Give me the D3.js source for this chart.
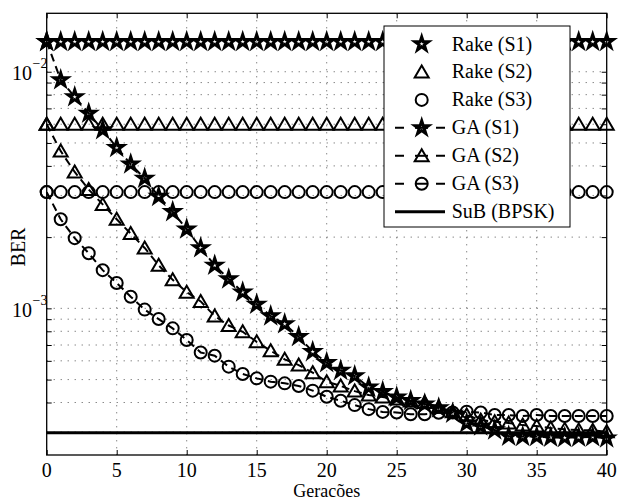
<!DOCTYPE html>
<html lang="en">
<head>
    <meta charset="utf-8">
    <script src="https://cdn.jsdelivr.net/npm/d3@7"></script>
    <style>
        body { margin: 0; background: #fff; }
        svg text { font-family: 'Liberation Serif', Tinos, 'Times New Roman', Times, 'DejaVu Serif', serif; fill: #000; }
        .grid line { stroke: #555; stroke-width: 1; stroke-dasharray: 1, 6; }
        .axis path { display: none; }
        .axis line { stroke: #000; stroke-width: 1; }
        .marker { fill: none; stroke: #000; stroke-width: 2; }
        .marker.star { stroke-width: 3; }
    </style>
</head>
<body>
<script>

    // data
    let generations = d3.range(0, 41);
    let xTicks = [0, 5, 10, 15, 20, 25, 30, 35, 40];
    let yLabelTicks = [1e-3, 1e-2];

    let rakeS1 = 0.0134;
    let rakeS2 = 0.006;
    let rakeS3 = 0.0031;
    let subBpsk = 0.000298;

    let gaS1 = [0.0134, 0.00923, 0.00783, 0.00667, 0.00568, 0.00478, 0.00407, 0.00354, 0.00297, 0.00256,
        0.00216, 0.00180, 0.00152, 0.00133, 0.00117, 0.00104, 0.000928, 0.000859, 0.000759, 0.000656,
        0.000589, 0.000546, 0.000518, 0.000464, 0.000444, 0.000421, 0.000407, 0.000394, 0.000379, 0.000360,
        0.000327, 0.000318, 0.000306, 0.000288, 0.000287, 0.000287, 0.000285, 0.000284, 0.000285, 0.000286,
        0.000283];
    let gaS2 = [0.006, 0.00462, 0.00377, 0.00318, 0.00275, 0.00238, 0.00207, 0.00180, 0.00152, 0.00132,
        0.00117, 0.00107, 0.000928, 0.000846, 0.000796, 0.000722, 0.000662, 0.000609, 0.000576, 0.000535,
        0.000490, 0.000470, 0.000447, 0.000430, 0.000422, 0.000414, 0.000406, 0.000400, 0.000382, 0.000366,
        0.000354, 0.000337, 0.000332, 0.000328, 0.000321, 0.000318, 0.000312, 0.000308, 0.000306, 0.000305,
        0.000301];
    let gaS3 = [0.0031, 0.00238, 0.00198, 0.00171, 0.00145, 0.00128, 0.00112, 0.000988, 0.000901, 0.000823,
        0.000735, 0.000651, 0.000631, 0.000567, 0.000528, 0.000506, 0.000490, 0.000482, 0.000470, 0.000449,
        0.000423, 0.000407, 0.000390, 0.000375, 0.000365, 0.000363, 0.000357, 0.000357, 0.000362, 0.000363,
        0.000366, 0.000363, 0.000354, 0.000354, 0.000351, 0.000354, 0.000351, 0.000351, 0.000351, 0.000351,
        0.000351];

    let legendLabels = ['Rake (S1)', 'Rake (S2)', 'Rake (S3)', 'GA (S1)', 'GA (S2)', 'GA (S3)', 'SuB (BPSK)'];

    let width = 618, height = 501;
    let plotLeft = 46.7, plotRight = 606.7, plotTop = 13.3, plotBottom = 455;
    let serif = "'Liberation Serif', Tinos, 'Times New Roman', Times, 'DejaVu Serif', serif";

    let svg = d3.select('body').append('svg')
        .attr('width', width).attr('height', height)
        .attr('font-family', serif);

    let x = d3.scaleLinear().domain([0, 40]).range([plotLeft, plotRight]);
    let y = d3.scaleLog().domain([2.4e-4, 0.01766]).range([plotBottom, plotTop]);

    // marker shapes
    let starPath = d3.symbol(d3.symbolStar, 56)();
    let triPath = 'M0,-6.5L7,5.5L-7,5.5Z';
    function drawMarker(g, shape, px, py) {
        if (shape === 'circle') {
            g.append('circle').attr('class', 'marker').attr('cx', px).attr('cy', py).attr('r', 6);
        } else {
            g.append('path').attr('class', 'marker ' + shape)
                .attr('d', shape === 'star' ? starPath : triPath)
                .attr('transform', 'translate(' + px + ',' + py + ')');
        }
    }

    // grid
    let grid = svg.append('g').attr('class', 'grid');
    grid.selectAll('.vx').data(xTicks.slice(1, -1)).enter().append('line')
        .attr('x1', function (d) { return x(d); }).attr('x2', function (d) { return x(d); })
        .attr('y1', plotTop).attr('y2', plotBottom);
    let yTicks = y.ticks().filter(function (d) { return y(d) > plotTop + 1 && y(d) < plotBottom - 1; });
    grid.selectAll('.hy').data(yTicks).enter().append('line')
        .attr('x1', plotLeft).attr('x2', plotRight)
        .attr('y1', function (d) { return y(d); }).attr('y2', function (d) { return y(d); });

    // axes with inward ticks
    svg.append('g').attr('class', 'axis').attr('transform', 'translate(0,' + plotBottom + ')')
        .call(d3.axisBottom(x).tickValues(xTicks).tickSize(-5).tickFormat(''));
    svg.append('g').attr('class', 'axis').attr('transform', 'translate(0,' + plotTop + ')')
        .call(d3.axisTop(x).tickValues(xTicks).tickSize(-5).tickFormat(''));
    svg.append('g').attr('class', 'axis').attr('transform', 'translate(' + plotLeft + ',0)')
        .call(d3.axisLeft(y).tickValues(yTicks).tickSize(-5).tickFormat(''));
    svg.append('g').attr('class', 'axis').attr('transform', 'translate(' + plotRight + ',0)')
        .call(d3.axisRight(y).tickValues(yTicks).tickSize(-5).tickFormat(''));

    // tick labels
    svg.append('g').selectAll('text').data(xTicks).enter().append('text')
        .attr('x', function (d) { return x(d); })
        .attr('y', 476.5)
        .attr('text-anchor', 'middle')
        .attr('font-size', 20)
        .text(function (d) { return d; });

    let yl = svg.append('g').selectAll('g').data(yLabelTicks).enter().append('g');
    yl.append('text')
        .attr('x', 32).attr('y', function (d) { return y(d) + 8.5; })
        .attr('text-anchor', 'end').attr('font-size', 20)
        .text('10');
    yl.append('text')
        .attr('x', 32.5).attr('y', function (d) { return y(d) - 3.5; })
        .attr('font-size', 14)
        .text(function (d) { return '\u2212' + Math.round(-Math.log10(d)); });

    // axis titles
    svg.append('text').attr('x', (plotLeft + plotRight) / 2).attr('y', 497)
        .attr('text-anchor', 'middle').attr('font-size', 18).text('Geracões');
    svg.append('text').attr('transform', 'translate(25,247) rotate(-90)')
        .attr('text-anchor', 'middle').attr('font-size', 20).text('BER');

    // series
    let plot = svg.append('g');
    let rakeSeries = [[rakeS1, 'star'], [rakeS2, 'tri'], [rakeS3, 'circle']];
    rakeSeries.forEach(function (s) {
        let g = plot.append('g');
        generations.forEach(function (gen) {
            drawMarker(g, s[1], x(gen), y(s[0]));
        });
    });

    let line = d3.line()
        .x(function (d, i) { return x(generations[i]); })
        .y(function (d) { return y(d); });

    let gaSeries = [[gaS1, 'star'], [gaS2, 'tri'], [gaS3, 'circle']];
    gaSeries.forEach(function (s) {
        let g = plot.append('g');
        g.append('path').attr('d', line(s[0]))
            .attr('fill', 'none').attr('stroke', '#000').attr('stroke-width', 2)
            .attr('stroke-dasharray', '8,5');
        s[0].forEach(function (v, i) {
            drawMarker(g, s[1], x(generations[i]), y(v));
        });
    });

    plot.append('line')
        .attr('x1', x(0)).attr('x2', x(40))
        .attr('y1', y(subBpsk)).attr('y2', y(subBpsk))
        .attr('stroke', '#000').attr('stroke-width', 3);

    // box
    svg.append('rect').attr('x', plotLeft).attr('y', plotTop)
        .attr('width', plotRight - plotLeft).attr('height', plotBottom - plotTop)
        .attr('fill', 'none').attr('stroke', '#000').attr('stroke-width', 1.3);

    // legend
    let lg = svg.append('g');
    lg.append('rect').attr('x', 384).attr('y', 26).attr('width', 186).attr('height', 201)
        .attr('fill', '#fff').attr('stroke', '#000').attr('stroke-width', 1);
    let shapes = ['star', 'tri', 'circle', 'star', 'tri', 'circle', null];
    legendLabels.forEach(function (label, i) {
        let cy = 44 + i * 27.95;
        let row = lg.append('g');
        if (i >= 3 && i < 6) {
            row.append('line').attr('x1', 395).attr('x2', 445).attr('y1', cy).attr('y2', cy)
                .attr('stroke', '#000').attr('stroke-width', 2).attr('stroke-dasharray', '9,32,9');
        }
        if (i === 6) {
            row.append('line').attr('x1', 395).attr('x2', 445).attr('y1', cy).attr('y2', cy)
                .attr('stroke', '#000').attr('stroke-width', 3);
        }
        if (shapes[i]) {
            drawMarker(row, shapes[i], 421.7, cy);
            if (i >= 3) {
                row.append('line').attr('x1', 415).attr('x2', 428).attr('y1', cy).attr('y2', cy)
                    .attr('stroke', '#000').attr('stroke-width', 2);
            }
        }
        row.append('text').attr('x', 451.7).attr('y', cy + 6.5)
            .attr('font-size', 20).text(label);
    });
</script>
</body>
</html>
